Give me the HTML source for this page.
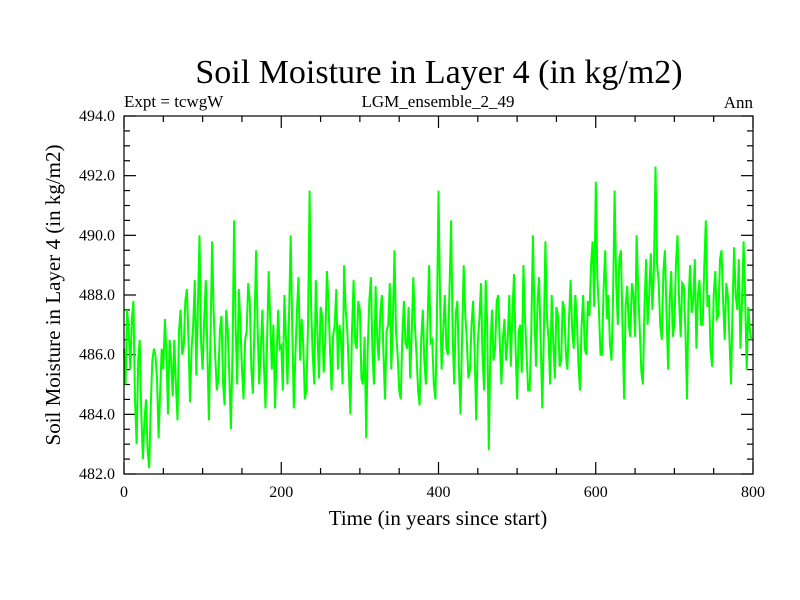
<!DOCTYPE html>
<html><head><meta charset="utf-8"><style>
html,body{margin:0;padding:0;background:#fff;}
svg{display:block;font-family:"Liberation Serif",serif;}
</style></head><body>
<svg id="chart" width="800" height="600" viewBox="0 0 800 600" xmlns="http://www.w3.org/2000/svg">
<rect width="800" height="600" fill="#fff"/>
<text x="439" y="83" font-size="34" text-anchor="middle">Soil Moisture in Layer 4 (in kg/m2)</text>
<text x="124" y="107" font-size="17">Expt = tcwgW</text>
<text x="438" y="107" font-size="17" text-anchor="middle">LGM_ensemble_2_49</text>
<text x="753" y="108" font-size="17" text-anchor="end">Ann</text>
<text x="438" y="525" font-size="21" text-anchor="middle">Time (in years since start)</text>
<text transform="translate(60,295) rotate(-90)" font-size="21" text-anchor="middle">Soil Moisture in Layer 4 (in kg/m2)</text>
<g id="ticks"></g>
<path id="series" fill="none" stroke="#00ff00" stroke-width="2" stroke-linejoin="miter"/>
<rect x="124" y="116" width="629" height="358" fill="none" stroke="#000" stroke-width="1.2"/>
</svg>
<script>
const years = [];
const startYear = 0, stepYears = 2;
const moisture = [
486.2,485.0,487.5,486.8,485.5,487.2,487.8,484.5,483.0,485.8,486.5,484.0,482.5,483.8,484.5,482.8,482.2,484.2,485.8,486.2,
486.0,485.2,483.2,484.8,486.2,485.5,487.2,486.0,484.0,486.5,485.8,484.6,486.5,485.0,483.8,486.8,487.5,486.0,486.3,487.8,
488.2,486.5,484.4,486.2,487.0,488.5,485.3,487.6,490.0,486.4,485.5,487.2,488.5,486.2,483.8,486.6,489.8,487.5,486.0,484.8,
485.2,486.8,487.3,485.0,484.3,487.5,486.8,485.2,483.5,486.0,490.5,487.0,485.0,488.2,487.0,485.6,484.5,486.5,486.8,488.4,
487.8,485.5,484.7,487.0,489.5,486.8,485.0,486.2,487.5,485.6,484.2,486.5,488.8,487.2,485.5,487.0,484.2,485.8,487.5,486.2,
486.3,484.8,488.0,486.5,485.0,487.4,490.0,486.8,484.2,486.0,487.5,488.6,485.8,487.2,486.3,484.5,484.8,487.0,491.5,487.6,
486.0,485.0,488.5,486.8,485.2,487.6,487.3,485.4,486.5,488.8,487.8,486.2,484.8,486.6,487.0,488.2,485.5,487.0,486.5,485.0,
489.0,487.5,486.8,485.4,484.0,486.8,488.5,486.4,486.2,487.8,487.5,485.2,485.0,486.6,483.2,486.2,487.8,488.6,486.0,485.0,
488.3,486.6,485.8,487.4,488.0,486.0,484.5,486.8,487.0,488.4,485.5,487.2,489.5,486.8,486.0,484.8,484.5,486.6,487.8,486.4,
486.2,487.6,485.2,486.8,488.6,487.0,486.0,484.8,484.3,486.5,487.5,485.8,485.0,487.0,489.0,486.4,486.5,485.0,484.5,487.2,
491.5,487.8,485.5,486.8,488.0,486.2,486.0,488.2,490.5,486.6,485.0,487.4,487.8,485.6,484.0,486.6,489.0,487.4,486.5,485.2,
485.5,487.0,487.8,486.0,483.8,486.4,487.2,488.4,486.0,484.8,488.5,487.0,482.8,486.2,487.5,485.8,486.2,487.8,488.0,486.4,
485.0,486.6,487.2,485.8,486.5,488.0,485.6,487.4,488.7,486.2,484.5,486.8,487.0,485.4,489.0,487.2,486.0,484.8,484.8,486.8,
490.0,487.4,485.6,487.8,488.6,486.4,484.2,486.8,489.8,487.2,486.5,485.0,488.0,486.4,485.2,487.6,487.3,485.6,485.8,487.8,
487.5,486.0,485.5,487.2,488.5,486.8,486.2,488.0,487.2,485.6,484.8,487.0,488.0,486.2,486.0,487.8,487.3,489.0,489.8,487.6,
491.8,488.6,487.5,486.0,486.0,488.2,489.5,487.2,488.0,486.4,485.8,487.8,491.5,488.4,487.0,489.2,489.5,487.0,484.5,487.6,
488.3,487.0,486.6,488.4,488.0,486.6,490.0,488.2,486.8,485.4,485.0,487.6,489.2,487.0,488.0,489.4,487.5,488.8,492.3,489.0,
488.5,487.0,486.5,488.8,489.5,487.4,485.5,487.8,488.8,486.6,487.0,489.0,490.0,487.8,486.6,488.4,488.3,486.8,484.5,487.8,
489.0,487.4,487.8,489.2,486.2,488.0,488.5,487.0,487.0,489.0,490.5,487.6,488.0,486.2,485.6,488.0,488.8,487.2,487.3,489.2,
489.5,487.8,486.5,488.4,488.0,486.6,485.0,487.6,489.6,488.0,487.5,489.2,486.2,487.8,489.8,488.0,485.5,487.6,486.8,486.5
];
for (let i = 0; i < moisture.length; i++) years.push(startYear + i * stepYears);
const xTickLabels = ["0","200","400","600","800"];
const xTickValues = [0,200,400,600,800];
const yTickLabels = ["482.0","484.0","486.0","488.0","490.0","492.0","494.0"];
const yTickValues = [482,484,486,488,490,492,494];

const X0=124,X1=753,Y0=116,Y1=474,XMIN=0,XMAX=800,YMIN=482,YMAX=494;
const xs = v => X0 + (v-XMIN)/(XMAX-XMIN)*(X1-X0);
const ys = v => Y1 - (v-YMIN)/(YMAX-YMIN)*(Y1-Y0);

let d = "";
for (let i = 0; i < moisture.length; i++) d += (i?"L":"M") + xs(years[i]).toFixed(1) + " " + ys(moisture[i]).toFixed(1);
document.getElementById('series').setAttribute('d', d);

const NS="http://www.w3.org/2000/svg";
const g=document.getElementById('ticks');
function line(x1,y1,x2,y2){const l=document.createElementNS(NS,'line');l.setAttribute('x1',x1);l.setAttribute('y1',y1);l.setAttribute('x2',x2);l.setAttribute('y2',y2);l.setAttribute('stroke','#000');l.setAttribute('stroke-width','1.2');


g.appendChild(l);}
for(let v=XMIN;v<=XMAX;v+=50){const x=xs(v);const L=(v%200===0)?12:6;line(x,Y1,x,Y1-L);line(x,Y0,x,Y0+L);}
for(let v=YMIN;v<=YMAX+1e-9;v+=0.5){const y=ys(v);const L=(Math.abs(v%2)<1e-9)?12:6;line(X0,y,X0+L,y);line(X1,y,X1-L,y);}
xTickLabels.forEach((t,i)=>{const e=document.createElementNS(NS,'text');e.setAttribute('x',xs(xTickValues[i]));e.setAttribute('y',497);e.setAttribute('font-size','16');e.setAttribute('text-anchor','middle');e.textContent=t;


g.appendChild(e);});
yTickLabels.forEach((t,i)=>{const e=document.createElementNS(NS,'text');e.setAttribute('x',115);e.setAttribute('y',ys(yTickValues[i])+5);e.setAttribute('font-size','16');e.setAttribute('text-anchor','end');e.textContent=t;


g.appendChild(e);});
</script>
</body></html>
